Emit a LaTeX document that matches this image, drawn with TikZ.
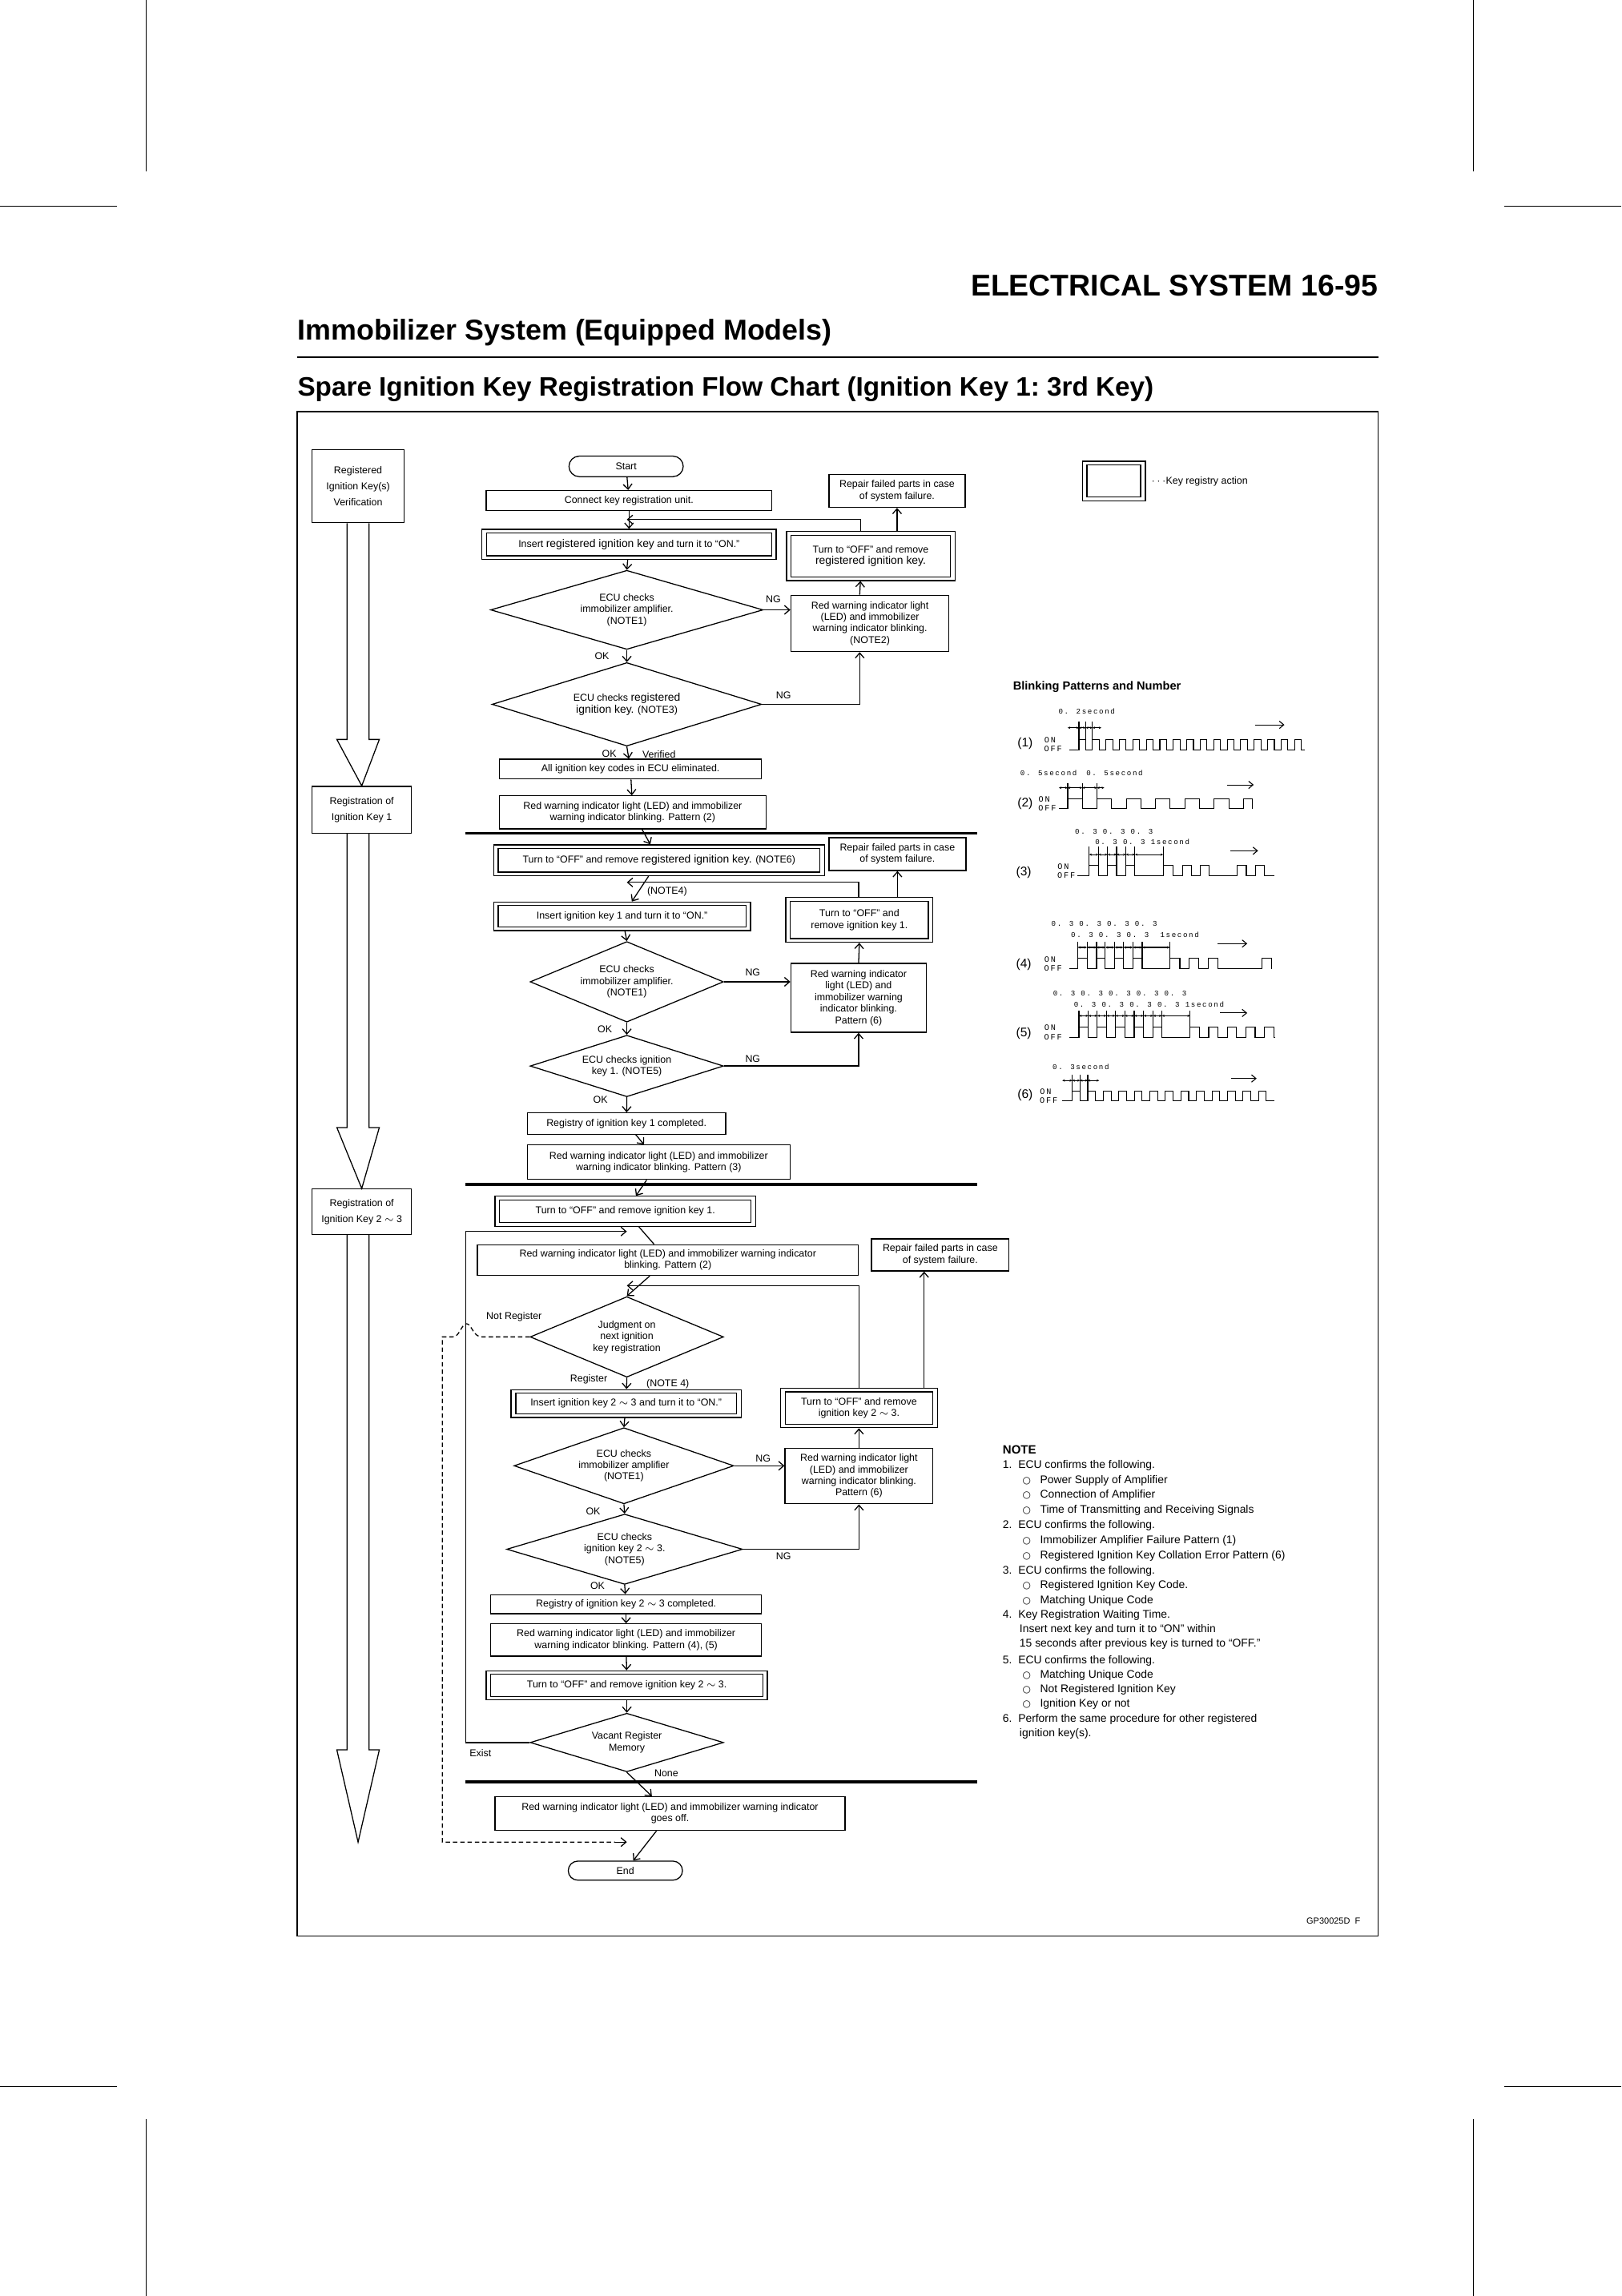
\documentclass[tikz,border=0pt]{standalone}
\usepackage{fontspec}
\setmainfont{Liberation Sans}
\newfontfamily\dejavu{DejaVu Sans}
\newfontfamily\wsf[LetterSpace=18]{Liberation Mono}
\usetikzlibrary{shapes.geometric,shapes.misc,arrows.meta}
\newcommand\bx[6]{\node[box,minimum width={#4-#2},minimum height={#5-#3}] (#1) at ({(#2+#4)/2},{(#3+#5)/2}) {#6};}
\newcommand\dbx[6]{\bx{#1}{#2}{#3}{#4}{#5}{#6}\draw[box] ([shift={(3.5,2.8)}]#1.north west) rectangle ([shift={(-3.5,-2.8)}]#1.south east);}
\newcommand\dia[6]{\node[dshape,minimum width={#4},minimum height={#5}] (#1) at (#2,#3) {};\node[txt] (#1t) at (#1) {#6};}
\newcommand\wave[5]{\draw[wv] (#3,#1) foreach \pa/\pb in {#4} { -- (\pa,#1) -- (\pa,#1-#2) -- (\pb,#1-#2) -- (\pb,#1) } -- (#5,#1);}
\newcommand\dims[2]{\foreach \pa/\pb in {#2} {\draw[wv,{Stealth[length=1.8pt,width=1.6pt]}-{Stealth[length=1.8pt,width=1.6pt]}] (\pa,#1) -- (\pb,#1);}}
\newcommand\tks[3]{\foreach \px in {#3} {\draw[wv] (\px,#1) -- (\px,#2);}}
\begin{document}
\begin{tikzpicture}[x=1pt,y=-1pt,
  box/.style={draw,line width=0.7pt,inner sep=0pt,align=center,font=\fontsize{6.8}{7.9}\selectfont},
  txt/.style={inner sep=0pt,align=center,font=\fontsize{6.8}{7.9}\selectfont},
  lbl/.style={inner sep=0pt,font=\fontsize{6.8}{7.9}\selectfont},
  dshape/.style={draw,diamond,line width=0.7pt,inner sep=0pt},
  term/.style={draw,rounded rectangle,line width=0.7pt,inner sep=0pt,font=\fontsize{6.8}{7.9}\selectfont},
  arr/.style={line width=0.7pt,-{Straight Barb[length=3.5pt,width=6pt]}},
  ln/.style={line width=0.7pt},
  thick sep/.style={line width=2pt},
  hol/.style={line width=0.7pt},
  wv/.style={line width=0.6pt},
  ws/.style={inner sep=0pt,font=\fontsize{5}{5}\selectfont\wsf},
  oo/.style={inner sep=0pt,font=\fontsize{5.6}{5.6}\selectfont\wsf},
  nt/.style={inner sep=0pt,anchor=west,font=\fontsize{7.6}{8}\selectfont},
  crop/.style={line width=0.6pt}]
\useasboundingbox[fill=white] (0,0) rectangle (1107,1568);
% crop marks
\draw[crop] (100,0)--(100,117) (1006,0)--(1006,117) (0,141)--(80,141) (1027,141)--(1107,141);
\draw[crop] (100,1447)--(100,1568) (1006,1447)--(1006,1568) (0,1425)--(80,1425) (1027,1425)--(1107,1425);
% headers
\node[inner sep=0pt,anchor=east,font=\fontsize{20.5}{22}\selectfont\bfseries] (hd) at (941,195) {ELECTRICAL SYSTEM 16-95};
\node[inner sep=0pt,anchor=west,font=\fontsize{19.6}{21}\selectfont\bfseries] (h1) at (203,227) {Immobilizer System (Equipped Models)};
\draw[line width=0.8pt] (203,244)--(941,244);
\node[inner sep=0pt,anchor=west,font=\fontsize{18.2}{20}\selectfont\bfseries] (h2) at (203,266) {Spare Ignition Key Registration Flow Chart (Ignition Key 1:\ 3rd Key)};
\draw[line width=0.8pt] (203,281) rectangle (941,1322);
\node[inner sep=0pt,anchor=east,font=\fontsize{6}{6}\selectfont] (gp) at (929,1312) {GP30025D\ \ F};
% left column
\bx{L1}{213}{307}{276}{357}{Registered\\[3pt]Ignition Key(s)\\[3pt]Verification}
\bx{L2}{213}{537}{281}{569}{Registration of\\[3pt]Ignition Key 1}
\bx{L3}{213}{812}{281}{843}{Registration of\\[3pt]Ignition Key 2 $\sim$ 3}
\draw[hol] (L1.south -| 237,0) -- (237,505) -- (230,505) -- (L2.north) -- (259,505) -- (252,505) -- (L1.south -| 252,0);
\draw[hol] (L2.south -| 237,0) -- (237,770) -- (230,770) -- (L3.north) -- (259,770) -- (252,770) -- (L2.south -| 252,0);
\coordinate (Lend) at (244.5,1258);
\draw[hol] (L3.south -| 237,0) -- (237,1195) -- (230,1195) -- (Lend) -- (259,1195) -- (252,1195) -- (L3.south -| 252,0);
% legend
\dbx{leg}{739}{315}{782}{342}{}
\node[lbl,anchor=west] (legt) at (786,329) {$\cdots$Key registry action};
% ---------- section 1
\node[term,minimum width=78pt,minimum height=14pt] (start) at (427.5,318.5) {Start};
\bx{conn}{332}{335}{527}{348.5}{Connect key registration unit.}
\dbx{ins1}{329}{361.5}{530}{382}{Insert {\fontsize{7.6}{8}\selectfont registered ignition key} and turn it to “ON.”}
\dia{d1}{428}{416.5}{186}{54}{ECU checks\\immobilizer amplifier.\\(NOTE1)}
\dia{d2}{428}{481}{184}{57}{ECU checks {\fontsize{7.6}{8}\selectfont registered}\\{\fontsize{7.6}{8}\selectfont ignition key.} (NOTE3)}
\bx{allk}{341}{518.5}{520}{532}{All ignition key codes in ECU eliminated.}
\bx{red2a}{341}{543.5}{523}{566}{Red warning indicator light (LED) and immobilizer\\warning indicator blinking. Pattern (2)}
\bx{rep1}{566}{324}{659}{346.5}{Repair failed parts in case\\of system failure.}
\dbx{off1}{537}{363}{652}{396.5}{Turn to “OFF” and remove\\{\fontsize{7.6}{8}\selectfont registered ignition key.}}
\bx{red1}{540}{406.5}{648}{445}{Red warning indicator light\\(LED) and immobilizer\\warning indicator blinking.\\(NOTE2)}
\draw[arr] (start) -- (conn);
\draw[arr] (conn) -- (ins1);
\draw[arr] (ins1) -- (d1.north);
\draw[arr] (d1.south) -- (d2.north);
\draw[arr] (d2.south) -- (allk);
\draw[arr] (allk) -- (red2a);
\draw[arr] (d1.east) -- (d1.east -| red1.west);
\draw[arr] (d2.east) -| ([xshift=-7pt]red1.south);
\draw[arr] ([xshift=-7pt]red1.north) -- ([xshift=-7pt]off1.south);
\coordinate (j1) at (428,354.8);
\draw[arr] ([xshift=-7pt]off1.north) |- (j1);
\draw[arr] (off1.north -| rep1.south) -- (rep1.south);
\node[lbl] (ng1) at (528,409) {NG};
\node[lbl] (ng2) at (535,475) {NG};
\node[lbl] (ok1) at (411,448) {OK};
\node[lbl] (ok2) at (416,515) {OK};
\node[lbl] (ver) at (450,515) {Verified};
\draw[thick sep] (318,569) -- (667,569);
% ---------- section 2
\dbx{off6}{337}{577}{563}{598}{Turn to “OFF” and remove {\fontsize{7.6}{8}\selectfont registered ignition key.} (NOTE6)}
\bx{rep2}{566}{572}{659.5}{594.5}{Repair failed parts in case\\of system failure.}
\dbx{ins2}{337}{616}{512.5}{635.5}{Insert ignition key 1 and turn it to “ON.”}
\dbx{offk1a}{536.5}{613}{637}{643.5}{Turn to “OFF” and\\remove ignition key 1.}
\dia{d3}{428}{670.5}{132}{55}{ECU checks\\immobilizer amplifier.\\(NOTE1)}
\dia{d4}{428}{728}{132}{42}{ECU checks ignition\\key 1. (NOTE5)}
\bx{red6a}{540}{658}{632.5}{705}{Red warning indicator\\light (LED) and\\immobilizer warning\\indicator blinking.\\Pattern (6)}
\bx{reg1}{360}{760}{495.5}{774.5}{Registry of ignition key 1 completed.}
\bx{red3}{360}{782}{539.5}{805.5}{Red warning indicator light (LED) and immobilizer\\warning indicator blinking. Pattern (3)}
\node[lbl] (n4a) at (455.5,609) {(NOTE4)};
\node[lbl] (ng3) at (514,664) {NG};
\node[lbl] (ng4) at (514,723) {NG};
\node[lbl] (ok3) at (413,703) {OK};
\node[lbl] (ok4) at (410,751) {OK};
\draw[arr] (red2a) -- (off6);
\draw[arr] (off6) -- (ins2);
\draw[arr] (ins2) -- (d3.north);
\draw[arr] (d3.south) -- (d4.north);
\draw[arr] (d4.south) -- (reg1);
\draw[arr] (reg1) -- (red3);
\draw[arr] (d3.east) -- (d3.east -| red6a.west);
\draw[arr] (d4.east) -| (red6a.south);
\draw[arr] (red6a.north) -- (offk1a.south);
\coordinate (j2) at (428,602.6);
\draw[arr] (offk1a.north -| red6a.north) |- (j2);
\draw[arr] (offk1a.north -| rep2.south) -- (rep2.south);
\draw[thick sep] (318,809) -- (667,809);
% ---------- section 3
\dbx{offk1}{338}{817}{516}{837.5}{Turn to “OFF” and remove ignition key 1.}
\draw[arr] (red3) -- (offk1);
\bx{red2b}{326}{850}{586}{871}{Red warning indicator light (LED) and immobilizer warning indicator\\blinking. Pattern (2)}
\bx{rep3}{595}{846}{689}{868}{Repair failed parts in case\\of system failure.}
\dia{dj}{428}{913}{132}{55}{Judgment on\\next ignition\\key registration}
\dbx{ins3}{349}{949}{506}{968}{Insert ignition key 2 $\sim$ 3 and turn it to “ON.”}
\dbx{offb}{533}{948}{640}{975}{Turn to “OFF” and remove\\ignition key 2 $\sim$ 3.}
\dia{da}{426}{1001}{150}{52}{ECU checks\\immobilizer amplifier\\(NOTE1)}
\bx{red6b}{536}{989}{637}{1027}{Red warning indicator light\\(LED) and immobilizer\\warning indicator blinking.\\Pattern (6)}
\dia{dk}{426.5}{1058}{161}{48}{ECU checks\\ignition key 2 $\sim$ 3.\\(NOTE5)}
\bx{reg23}{335}{1089}{520}{1102}{Registry of ignition key 2 $\sim$ 3 completed.}
\bx{red45}{335}{1109}{520}{1131}{Red warning indicator light (LED) and immobilizer\\warning indicator blinking. Pattern (4), (5)}
\dbx{off23}{332}{1141}{524}{1161}{Turn to “OFF” and remove ignition key 2 $\sim$ 3.}
\dia{dv}{428}{1190}{132}{40}{Vacant Register\\Memory}
\draw[thick sep] (318,1217) -- (667,1217);
\bx{goff}{338}{1227}{577}{1250}{Red warning indicator light (LED) and immobilizer warning indicator\\goes off.}
\node[term,minimum width=78pt,minimum height=13pt] (end) at (427,1277.5) {End};
\node[lbl] (nreg) at (351,899) {Not Register};
\node[lbl] (regl) at (402,942) {Register};
\node[lbl] (n4b) at (456,945) {(NOTE 4)};
\node[lbl] (ng5) at (521,996) {NG};
\node[lbl] (ng6) at (535,1063) {NG};
\node[lbl] (ok5) at (405,1032) {OK};
\node[lbl] (ok6) at (408,1083) {OK};
\node[lbl] (exl) at (328,1197) {Exist};
\node[lbl] (nonel) at (455,1211) {None};
\coordinate (j3) at (428,841);
\coordinate (j4) at (428,878);
\coordinate (j5) at (428,1258);
\coordinate (ex) at (318,841);
\coordinate (r3) at (631,0);
\draw[ln] (offk1) -- (red2b);
\draw[arr] (ex) -- (j3);
\draw[ln] (dv.west) -| (ex);
\draw[arr] (red2b) -- (dj.north);
\draw[arr] (dj.south) -- (ins3);
\draw[arr] (ins3) -- (da.north);
\draw[arr] (da.south) -- (dk.north);
\draw[arr] (dk.south) -- (reg23);
\draw[arr] (reg23) -- (red45);
\draw[arr] (red45) -- (off23);
\draw[arr] (off23) -- (dv.north);
\draw[arr] (dv.south) -- (goff);
\draw[arr] (goff) -- (end);
\draw[arr] (da.east) -- (da.east -| red6b.west);
\draw[arr] (dk.east) -| (red6b.south);
\draw[arr] (red6b.north) -- (offb.south);
\draw[arr] (offb.north) |- (j4);
\draw[arr] (offb.north -| r3) -- (rep3.south -| r3);
\draw[ln,dash pattern=on 3pt off 2pt] (dj.west) -- (329,913) .. controls (323,913) and (322,904) .. (318.5,904) .. controls (315,904) and (314,913) .. (309,913) -- (302,913) -- (302,1258) -- (420,1258);
\draw[arr] (420,1258) -- (j5);
% ---------- blinking patterns
\node[inner sep=0pt,anchor=west,font=\fontsize{8}{8}\selectfont\bfseries] (bpt) at (691.5,469) {Blinking Patterns and Number};
% (1)
\node[lbl,font=\fontsize{8.5}{8}\selectfont] (p1) at (700,508) {(1)};
\node[oo] (on1) at (717,505.5) {ON}; \node[oo] (of1) at (719,511.5) {OFF};
\wave{512}{6.7}{730.3}{736.7/741.3,745.9/750.5,755.1/759.7,764.3/768.9,773.5/778.1,782.7/787.3,791.9/796.5,801.1/805.7,810.3/814.9,819.5/824.1,828.7/833.3,837.9/842.5,847.1/851.7,856.3/860.9,865.5/870.1,874.7/879.3,883.9/888.5}{891}
\tks{505.3}{493}{736.7,741.3,745.9}
\dims{497}{729/736.7,736.7/741.3,741.3/745.9,745.9/752}
\node[ws] (l1) at (742,486) {0. 2second};
\draw[wv,-{Straight Barb[length=3pt,width=5pt]}] (857,495) -- (877,495);
% (2)
\node[lbl,font=\fontsize{8.5}{8}\selectfont] (p2) at (700,549) {(2)};
\node[oo] (on2) at (713,546) {ON}; \node[oo] (of2) at (715,552) {OFF};
\wave{552.3}{6.7}{722.9}{729/739,749/759,769/779,789/799,809/819,829/839,849/855}{855}
\tks{545.6}{535}{729,739,749}
\dims{538}{723/729,729/739,739/749,749/754}
\node[ws] (l2a) at (716,528) {0. 5second};
\node[ws] (l2b) at (761,528) {0. 5second};
\draw[wv,-{Straight Barb[length=3pt,width=5pt]}] (838,536) -- (856,536);
% (3)
\node[lbl,font=\fontsize{8.5}{8}\selectfont] (p3) at (699,596) {(3)};
\node[oo] (on3) at (726,592) {ON}; \node[oo] (of3) at (728,598) {OFF};
\wave{597.8}{6.7}{735.8}{743.7/750,756.2/762.4,768.7/774.9,794.2/801,807.5/813.5,819.4/825.8,844.8/851,857.1/863.5}{869.9}
\tks{591.1}{578}{743.7,750,756.2,762.4,768.7,774.9,794.2}
\dims{583.6}{743.7/750,750/756.2,756.2/762.4,762.4/768.7,768.7/774.9,774.9/794.2}
\node[ws] (l3a) at (760.6,567.7) {0. 3 0. 3 0. 3};
\node[ws] (l3b) at (780,574.8) {0. 3 0. 3 1second};
\draw[wv,-{Straight Barb[length=3pt,width=5pt]}] (840,581) -- (859,581);
% (4)
\node[lbl,font=\fontsize{8.5}{8}\selectfont] (p4) at (699,659) {(4)};
\node[oo] (on4) at (717,655) {ON}; \node[oo] (of4) at (719,661.5) {OFF};
\wave{661.7}{7.3}{730.3}{735.8/742.2,748.7/754.7,761/767,773.5/779.9,798.8/805.6,812/818.5,825/831.4,861.7/868.1}{868.1}
\tks{654.4}{643}{735.8,742.2,748.7,754.7,761,767,773.5,779.9,798.8}
\dims{647}{735.8/742.2,742.2/748.7,748.7/754.7,754.7/761,761/767,767/773.5,773.5/779.9,779.9/798.8}
\node[ws] (l4a) at (754,631) {0. 3 0. 3 0. 3 0. 3};
\node[ws] (l4b) at (775,638.3) {0. 3 0. 3 0. 3\ \ 1second};
\draw[wv,-{Straight Barb[length=3pt,width=5pt]}] (831.4,644.4) -- (851.6,644.4);
% (5)
\node[lbl,font=\fontsize{8.5}{8}\selectfont] (p5) at (699,706) {(5)};
\node[oo] (on5) at (717,702) {ON}; \node[oo] (of5) at (719,708.5) {OFF};
\wave{708.7}{7.3}{730.3}{736.7/743.1,749.2/755.5,761.5/768,774.4/780.8,787.3/793.3,812.6/818.9,825.3/831.6,838/844.3,850.7/857,863.4/869.7}{870.9}
\tks{701.4}{690}{736.7,743.1,749.2,755.5,761.5,768,774.4,780.8,787.3,793.3,812.6}
\dims{693.7}{736.7/743.1,743.1/749.2,749.2/755.5,755.5/761.5,761.5/768,768/774.4,774.4/780.8,780.8/787.3,787.3/793.3,793.3/812.6}
\node[ws] (l5a) at (764.6,678.6) {0. 3 0. 3 0. 3 0. 3 0. 3};
\node[ws] (l5b) at (784.5,685.7) {0. 3 0. 3 0. 3 0. 3 1second};
\draw[wv,-{Straight Barb[length=3pt,width=5pt]}] (833,691.8) -- (851.6,691.8);
% (6)
\node[lbl,font=\fontsize{8.5}{8}\selectfont] (p6) at (700,748) {(6)};
\node[oo] (on6) at (714,745.5) {ON}; \node[oo] (of6) at (716,751.5) {OFF};
\wave{751.8}{6.7}{725.3}{732.1/737.4,742.7/748,753.3/758.6,763.9/769.2,774.5/779.8,785.1/790.4,795.7/801,806.3/811.6,816.9/822.2,827.5/832.8,838.1/843.4,848.7/854,859.3/864.6}{870}
\tks{745.1}{734}{732.1,737.4,742.7}
\dims{737.9}{725.3/732.1,732.1/737.4,737.4/742.7,742.7/750.5}
\node[ws] (l6) at (738,728.4) {0. 3second};
\draw[wv,-{Straight Barb[length=3pt,width=5pt]}] (840.6,736.5) -- (858,736.5);
% ---------- NOTE
\node[nt,font=\fontsize{8.2}{8}\selectfont\bfseries] (nt0) at (684.5,990) {NOTE};
\newcommand\ci{{\dejavu\fontsize{6.5}{7}\selectfont ○}}
\node[nt] (n1) at (684.5,1001) {1.\ \ ECU confirms the following.};
\node[nt] (n1a) at (698,1011) {\ci\ \ \ Power Supply of Amplifier};
\node[nt] (n1b) at (698,1021) {\ci\ \ \ Connection of Amplifier};
\node[nt] (n1c) at (698,1031.5) {\ci\ \ \ Time of Transmitting and Receiving Signals};
\node[nt] (n2) at (684.5,1042) {2.\ \ ECU confirms the following.};
\node[nt] (n2a) at (698,1052) {\ci\ \ \ Immobilizer Amplifier Failure Pattern (1)};
\node[nt] (n2b) at (698,1062.5) {\ci\ \ \ Registered Ignition Key Collation Error Pattern (6)};
\node[nt] (n3) at (684.5,1073) {3.\ \ ECU confirms the following.};
\node[nt] (n3a) at (698,1083) {\ci\ \ \ Registered Ignition Key Code.};
\node[nt] (n3b) at (698,1093) {\ci\ \ \ Matching Unique Code};
\node[nt] (n4) at (684.5,1103) {4.\ \ Key Registration Waiting Time.};
\node[nt] (n4x) at (696,1113) {Insert next key and turn it to “ON” within};
\node[nt] (n4y) at (696,1123) {15 seconds after previous key is turned to “OFF.”};
\node[nt] (n5) at (684.5,1134) {5.\ \ ECU confirms the following.};
\node[nt] (n5a) at (698,1144) {\ci\ \ \ Matching Unique Code};
\node[nt] (n5b) at (698,1154) {\ci\ \ \ Not Registered Ignition Key};
\node[nt] (n5c) at (698,1164) {\ci\ \ \ Ignition Key or not};
\node[nt] (n6) at (684.5,1174) {6.\ \ Perform the same procedure for other registered};
\node[nt] (n6x) at (696,1184) {ignition key(s).};
\end{tikzpicture}
\end{document}
